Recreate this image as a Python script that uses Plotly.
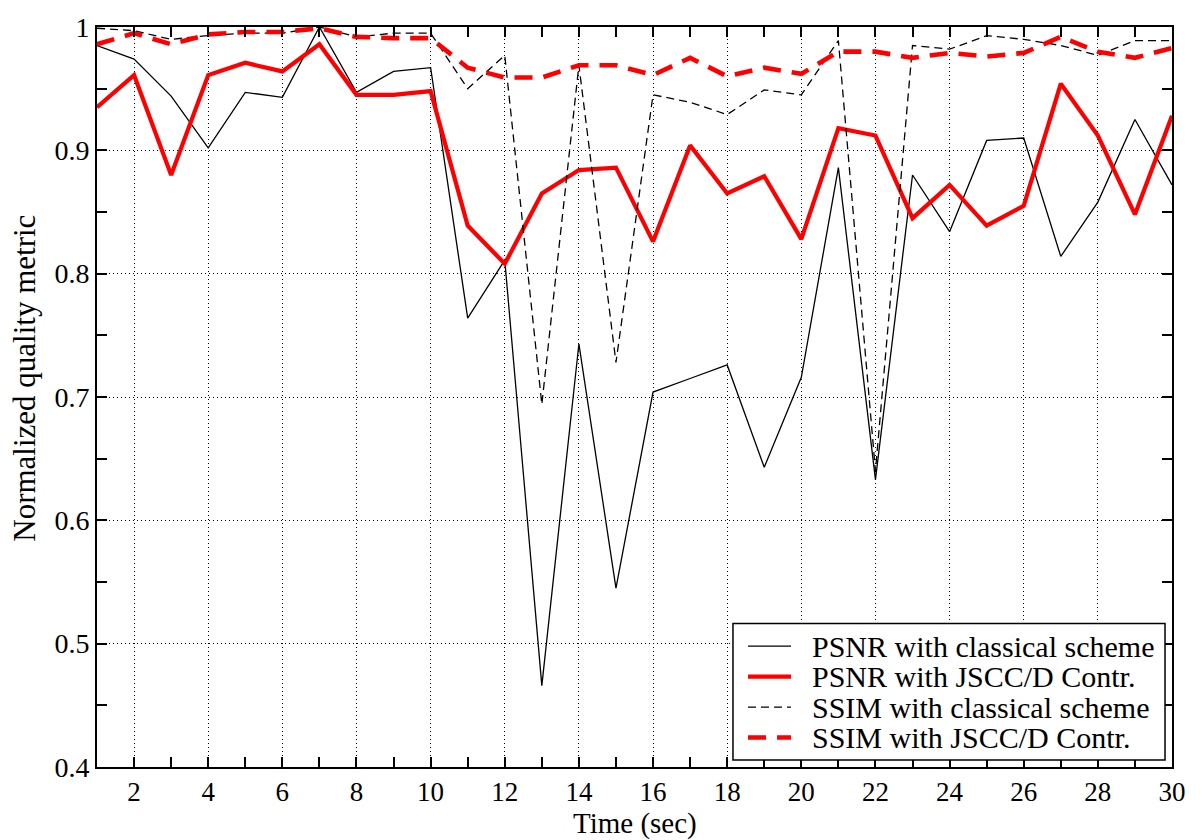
import plotly.graph_objects as go

time_sec = list(range(1, 31))

psnr_classical = [0.985, 0.974, 0.944, 0.902, 0.947, 0.943, 1.000, 0.947, 0.964, 0.967,
                  0.764, 0.811, 0.466, 0.743, 0.545, 0.704, 0.715, 0.726, 0.643, 0.716,
                  0.886, 0.633, 0.880, 0.834, 0.908, 0.910, 0.814, 0.858, 0.925, 0.872]

psnr_jscc = [0.935, 0.961, 0.880, 0.961, 0.971, 0.964, 0.986, 0.945, 0.945, 0.948,
             0.839, 0.808, 0.865, 0.884, 0.886, 0.826, 0.904, 0.865, 0.879, 0.828,
             0.918, 0.912, 0.845, 0.872, 0.839, 0.855, 0.954, 0.912, 0.848, 0.928]

ssim_classical = [0.999, 0.997, 0.990, 0.993, 0.995, 0.995, 1.000, 0.992, 0.995, 0.995,
                  0.950, 0.977, 0.694, 0.969, 0.728, 0.945, 0.939, 0.929, 0.949, 0.945,
                  0.989, 0.640, 0.985, 0.982, 0.993, 0.990, 0.985, 0.977, 0.989, 0.989]

ssim_jscc = [0.986, 0.995, 0.986, 0.994, 0.996, 0.996, 0.999, 0.992, 0.991, 0.991,
             0.967, 0.959, 0.959, 0.969, 0.969, 0.961, 0.975, 0.960, 0.967, 0.962,
             0.980, 0.980, 0.975, 0.979, 0.976, 0.979, 0.992, 0.980, 0.975, 0.983]

series_names = ["PSNR with classical scheme", "PSNR with JSCC/D Contr.",
                "SSIM with classical scheme", "SSIM with JSCC/D Contr."]

x_tick_vals = list(range(2, 31, 2))
x_tick_text = [str(v) for v in x_tick_vals]
y_tick_vals = [0.4, 0.5, 0.6, 0.7, 0.8, 0.9, 1.0]
y_tick_text = ["0.4", "0.5", "0.6", "0.7", "0.8", "0.9", "1"]

FONT = "Liberation Serif, Times New Roman, serif"

styles = [
    dict(color="black", width=1.3),
    dict(color="#ff0000", width=4.2),
    dict(color="black", width=1.3, dash="8px,5px"),
    dict(color="#ff0000", width=4.6, dash="18px,11px"),
]
series_values = [psnr_classical, psnr_jscc, ssim_classical, ssim_jscc]

fig = go.Figure()
for name, vals, st in zip(series_names, series_values, styles):
    fig.add_trace(go.Scatter(x=time_sec, y=vals, mode="lines", name=name,
                             line=st, showlegend=False))

# Legend box drawn in paper coordinates to match the reference layout
box_x0, box_x1, box_y0, box_y1 = 0.5916, 0.9935, 0.0093, 0.1939
fig.add_shape(type="rect", xref="paper", yref="paper",
              x0=box_x0, x1=box_x1, y0=box_y0, y1=box_y1,
              line=dict(color="black", width=1.5), fillcolor="white", layer="above")
entry_y = [0.1633, 0.1222, 0.0810, 0.0398]
for name, st, ey in zip(series_names, styles, entry_y):
    fig.add_shape(type="line", xref="paper", yref="paper",
                  x0=0.6056, x1=0.6456, y0=ey, y1=ey, line=st, layer="above")
    fig.add_annotation(xref="paper", yref="paper", x=0.6630, y=ey,
                       xanchor="left", yanchor="middle", text=name, showarrow=False,
                       font=dict(family=FONT, size=30, color="black"))

# Axis titles
fig.add_annotation(xref="paper", yref="paper", x=0.5, y=-0.0765,
                   xanchor="center", yanchor="middle", text="Time (sec)", showarrow=False,
                   font=dict(family=FONT, size=29, color="black"))
fig.add_annotation(xref="paper", yref="paper", x=-0.067, y=0.526, textangle=-90,
                   xanchor="center", yanchor="middle", text="Normalized quality metric",
                   showarrow=False, font=dict(family=FONT, size=31, color="black"))

fig.update_layout(
    width=1204, height=840,
    margin=dict(l=97, r=32, t=14, b=73),
    paper_bgcolor="white", plot_bgcolor="white",
    font=dict(family=FONT, size=27, color="black"),
    showlegend=False,
)

fig.update_xaxes(
    range=[1, 30], tickvals=x_tick_vals, ticktext=x_tick_text,
    showline=True, linecolor="black", linewidth=2, mirror="ticks",
    ticks="inside", ticklen=10, tickcolor="black", tickwidth=1.5,
    showgrid=True, gridcolor="black", gridwidth=1, griddash="1px,3px",
    minor=dict(tickvals=list(range(1, 31, 2)), ticks="inside", ticklen=10,
               tickcolor="black", tickwidth=1.5, showgrid=False),
    zeroline=False, ticklabeloverflow="allow",
    tickfont=dict(family=FONT, size=27),
)
fig.update_yaxes(
    range=[0.4, 1.0], tickvals=y_tick_vals, ticktext=y_tick_text,
    showline=True, linecolor="black", linewidth=2, mirror="ticks",
    ticks="inside", ticklen=10, tickcolor="black", tickwidth=1.5,
    showgrid=True, gridcolor="black", gridwidth=1, griddash="1px,3px",
    minor=dict(tickvals=[0.45, 0.55, 0.65, 0.75, 0.85, 0.95], ticks="inside",
               ticklen=10, tickcolor="black", tickwidth=1.5, showgrid=False),
    zeroline=False, ticklabeloverflow="allow",
    tickfont=dict(family=FONT, size=28),
)

fig.write_html("out.html", config={"displayModeBar": False},
               post_script="document.body.style.margin='0px';")
